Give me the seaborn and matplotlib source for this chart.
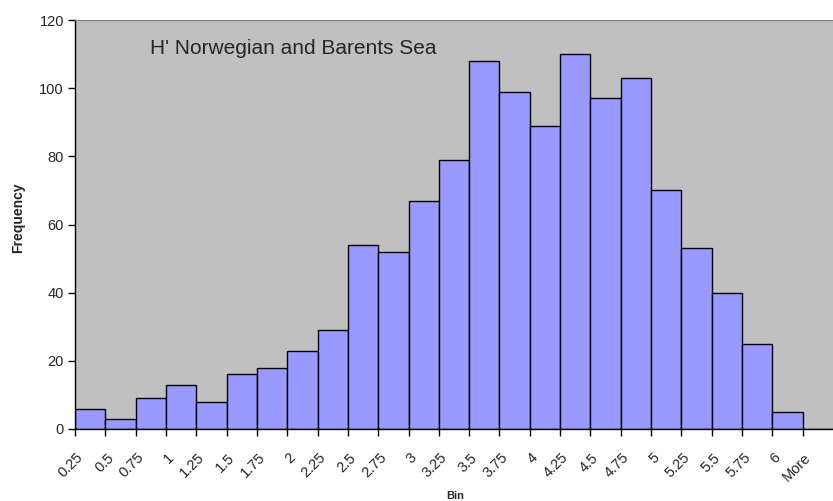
import numpy as np
import pandas as pd
import matplotlib
matplotlib.use("Agg")
import matplotlib.pyplot as plt
import matplotlib.transforms as mtrans
import seaborn as sns

bins = ["0.25", "0.5", "0.75", "1", "1.25", "1.5", "1.75", "2", "2.25", "2.5",
        "2.75", "3", "3.25", "3.5", "3.75", "4", "4.25", "4.5", "4.75", "5",
        "5.25", "5.5", "5.75", "6", "More"]
freq = [6, 3, 9, 13, 8, 16, 18, 23, 29, 54,
        52, 67, 79, 108, 99, 89, 110, 97, 103, 70,
        53, 40, 25, 5, 0]

df = pd.DataFrame({"Bin": bins, "Frequency": freq})

sns.set_style("white")
plt.rcParams["font.family"] = ["Liberation Sans", "DejaVu Sans"]

fig = plt.figure(figsize=(8.33, 5.01), dpi=100)
ax = fig.add_axes([75 / 833, 1 - 429 / 501, 758 / 833, 409 / 501])
sns.barplot(data=df, x="Bin", y="Frequency", color="#9999FF", width=1,
            edgecolor="black", linewidth=1, saturation=1, ax=ax)
ax.set_facecolor("#C0C0C0")
ax.set_xlim(-0.5, len(bins) - 0.5)
ax.set_ylim(0, 120)
ax.set_yticks(range(0, 121, 20))
ax.tick_params(axis="y", labelsize=10.5, length=5, width=1, color="black",
               direction="out", left=True, pad=3)

# labels at bar centres, tick marks at bar edges
ax.set_xticks(range(len(bins)))
ax.set_xticklabels(bins, rotation=45, ha="right", va="center",
                   rotation_mode="anchor")
ax.tick_params(axis="x", which="major", length=0, labelsize=10.5, pad=19)
shift = mtrans.ScaledTranslation(-9 / 100, 0, fig.dpi_scale_trans)
for lab in ax.get_xticklabels():
    lab.set_transform(lab.get_transform() + shift)
ax.set_xticks(np.arange(len(bins)) - 0.5, minor=True)
ax.tick_params(axis="x", which="minor", length=5, width=1, color="black",
               direction="out", bottom=True)

for s in ["left", "bottom"]:
    ax.spines[s].set_color("black")
    ax.spines[s].set_linewidth(1)
ax.spines["top"].set_color("#808080")
ax.spines["right"].set_visible(False)

ax.set_xlabel("Bin", fontsize=8, fontweight="bold")
ax.xaxis.set_label_coords(0.502, -0.152)
ax.set_ylabel("Frequency", fontsize=10, fontweight="bold")
ax.yaxis.set_label_coords(-0.066, 0.516)
ax.text(0.099, 0.93, "H' Norwegian and Barents Sea", transform=ax.transAxes,
        fontsize=15, va="center", ha="left")

fig.savefig("out.png", dpi=100)
